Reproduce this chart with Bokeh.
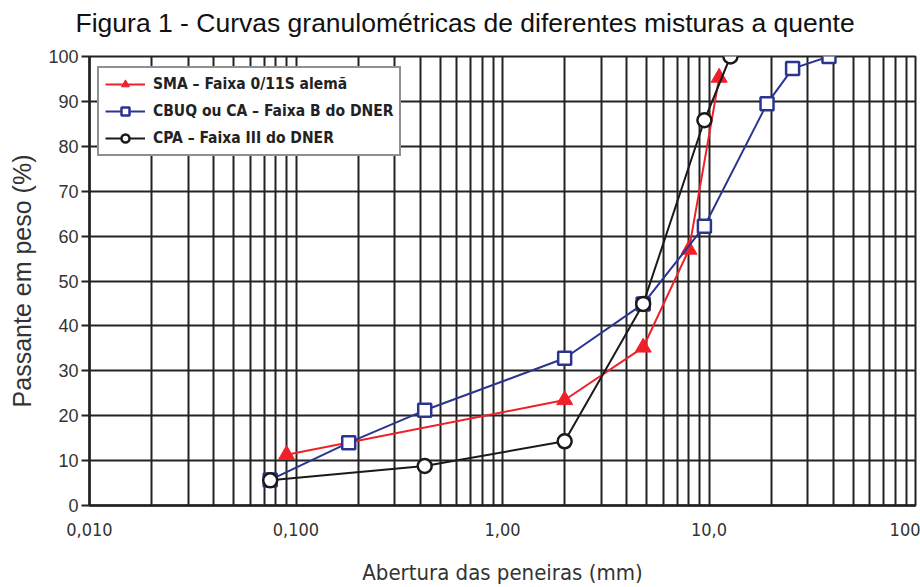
from bokeh.plotting import figure
from bokeh.models import FixedTicker, Legend, LegendItem, Title
from bokeh.embed import file_html
from bokeh.resources import INLINE

# Data
sma_x = [0.09, 2.0, 4.8, 8.0, 11.2]
sma_y = [11.3, 23.5, 35.2, 57.0, 95.3]

cbuq_x = [0.075, 0.18, 0.42, 2.0, 4.8, 9.5, 19.1, 25.4, 38.1]
cbuq_y = [5.7, 14.0, 21.2, 32.8, 44.9, 62.2, 89.5, 97.3, 100.0]

cpa_x = [0.075, 0.42, 2.0, 4.8, 9.5, 12.7]
cpa_y = [5.6, 8.8, 14.3, 44.9, 85.8, 100.0]

x_major = [0.01, 0.1, 1.0, 10.0, 100.0]
x_major_labels = ["0,010", "0,100", "1,00", "10,0", "100"]
y_ticks = list(range(0, 101, 10))

grid_x = [m * d for d in [0.01, 0.1, 1.0, 10.0] for m in range(1, 10)] + [100.0]

COND = "'Liberation Sans Narrow', 'DejaVu Sans Condensed', 'Roboto Condensed', sans-serif"
ARIAL = "'Liberation Sans', Arial, sans-serif"

p = figure(width=920, height=587, x_axis_type="log",
           x_range=(0.01, 100), y_range=(0, 100), title=None,
           output_backend="svg", toolbar_location=None,
           min_border_left=89, min_border_right=5,
           min_border_top=56, min_border_bottom=81)

p.background_fill_color = "white"
p.border_fill_color = "white"
p.outline_line_color = "#222222"
p.outline_line_width = 2

# title (spacer first, closest to the frame, then the real title)
spacer = Title(text=" ", text_font_size="15px", standoff=0)
p.add_layout(spacer, "above")
main_title = Title(text="Figura 1 - Curvas granulom\u00e9tricas de diferentes misturas a quente",
                   align="left", offset=-14, text_font=ARIAL, text_font_size="26.5px",
                   text_font_style="normal", text_color="#111111", standoff=0)
p.add_layout(main_title, "above")

# grid
p.xgrid.ticker = FixedTicker(ticks=grid_x)
p.xgrid.grid_line_color = "#222222"
p.xgrid.grid_line_width = 2
p.ygrid.ticker = FixedTicker(ticks=y_ticks)
p.ygrid.grid_line_color = "#222222"
p.ygrid.grid_line_width = 2

# x axis
p.xaxis.ticker = FixedTicker(ticks=x_major)
p.xaxis.major_label_overrides = {v: s for v, s in zip(x_major, x_major_labels)}
p.xaxis.major_tick_out = 0
p.xaxis.major_tick_in = 0
p.xaxis.minor_tick_out = 0
p.xaxis.minor_tick_in = 0
p.xaxis.axis_line_width = 2.5
p.xaxis.axis_line_color = "#222222"
p.xaxis.major_label_text_font = COND
p.xaxis.major_label_text_font_size = "18px"
p.xaxis.major_label_text_color = "#333333"
p.xaxis.major_label_standoff = 17
p.xaxis.axis_label = "Abertura das peneiras (mm)"
p.xaxis.axis_label_text_font = COND
p.xaxis.axis_label_text_font_size = "22px"
p.xaxis.axis_label_text_font_style = "normal"
p.xaxis.axis_label_text_color = "#333333"
p.xaxis.axis_label_standoff = 21

# y axis
p.yaxis.ticker = FixedTicker(ticks=y_ticks)
p.yaxis.major_tick_out = 8
p.yaxis.major_tick_in = 0
p.yaxis.major_tick_line_width = 2
p.yaxis.major_tick_line_color = "#222222"
p.yaxis.minor_tick_out = 0
p.yaxis.axis_line_width = 2.5
p.yaxis.axis_line_color = "#222222"
p.yaxis.major_label_text_font = ARIAL
p.yaxis.major_label_text_font_size = "18px"
p.yaxis.major_label_text_color = "#333333"
p.yaxis.major_label_standoff = 3
p.yaxis.axis_label = "Passante em peso (%)"
p.yaxis.axis_label_text_font = ARIAL
p.yaxis.axis_label_text_font_size = "25px"
p.yaxis.axis_label_text_font_style = "normal"
p.yaxis.axis_label_text_color = "#333333"
p.yaxis.axis_label_standoff = 9

# series
red = "#f0202a"
blue = "#2b3590"
black = "#1a1a1a"

l1 = p.line(sma_x, sma_y, line_color=red, line_width=2)
m1 = p.scatter(sma_x, sma_y, marker="triangle", size=16, fill_color=red, line_color=red)

l2 = p.line(cbuq_x, cbuq_y, line_color=blue, line_width=2)
m2 = p.scatter(cbuq_x, cbuq_y, marker="square", size=13, fill_color="white", line_color=blue, line_width=2.5)

l3 = p.line(cpa_x, cpa_y, line_color=black, line_width=2)
m3 = p.scatter(cpa_x, cpa_y, marker="circle", size=14, fill_color="white", line_color=black, line_width=2.5)

legend = Legend(items=[
    LegendItem(label="SMA \u2013 Faixa 0/11S alem\u00e3", renderers=[l1, m1]),
    LegendItem(label="CBUQ ou CA \u2013 Faixa B do DNER", renderers=[l2, m2]),
    LegendItem(label="CPA \u2013 Faixa III do DNER", renderers=[l3, m3]),
], location=(8, 349))
legend.label_text_font = COND
legend.label_text_font_size = "15.5px"
legend.label_text_font_style = "bold"
legend.label_text_color = "#222222"
legend.border_line_color = "#222222"
legend.border_line_width = 2
legend.background_fill_alpha = 1
legend.margin = 0
legend.padding = 6
legend.spacing = 7
legend.glyph_width = 40
legend.label_standoff = 8
p.add_layout(legend)

open("out.html", "w").write(file_html(p, INLINE))
